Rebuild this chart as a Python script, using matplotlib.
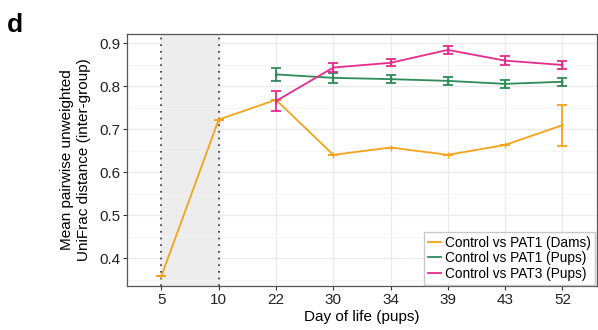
import numpy as np
import matplotlib.pyplot as plt
from matplotlib.lines import Line2D

plt.rcParams['font.family'] = ['Liberation Sans', 'DejaVu Sans']

# categories (day of life)
days = ['5', '10', '22', '30', '34', '39', '43', '52']

# Control vs PAT1 (Dams)
dams_mean = [0.358, 0.722, 0.768, 0.640, 0.657, 0.640, 0.663, 0.709]
dams_err = [0, 0, 0, 0, 0, 0, 0, 0.048]

# Control vs PAT1 (Pups), from day 22
pat1_days = ['22', '30', '34', '39', '43', '52']
pat1_mean = [0.827, 0.819, 0.816, 0.812, 0.805, 0.810]
pat1_err = [0.015, 0.011, 0.010, 0.010, 0.009, 0.009]

# Control vs PAT3 (Pups), from day 22
pat3_mean = [0.765, 0.843, 0.854, 0.884, 0.859, 0.849]
pat3_err = [0.024, 0.011, 0.008, 0.009, 0.010, 0.009]

labels = ['Control vs PAT1 (Dams)', 'Control vs PAT1 (Pups)', 'Control vs PAT3 (Pups)']
c_orange = '#F5A31A'
c_green = '#2E8B57'
c_pink = '#E52B8C'

fig = plt.figure(figsize=(5.98, 3.30), dpi=100)
ax = fig.add_axes([0.2124, 0.1333, 0.7856, 0.7637])

pos = {d: i + 1 for i, d in enumerate(days)}
x_all = np.array([pos[d] for d in days])
x_pups = np.array([pos[d] for d in pat1_days])

# shaded window between day 5 and day 10
ax.axvspan(pos['5'], pos['10'], color='#EDEDED', zorder=0.5)
for d in ['5', '10']:
    ax.axvline(pos[d], color='#333333', linestyle=(0, (1, 3)), lw=1.2, zorder=1)

ax.errorbar(x_all, dams_mean, yerr=dams_err, color=c_orange, lw=1.3,
            capsize=3.6, capthick=1.3, marker='|', ms=4, zorder=3)
ax.errorbar(x_pups, pat1_mean, yerr=pat1_err, color=c_green, lw=1.3,
            capsize=3.6, capthick=1.3, marker='|', ms=4, zorder=3)
ax.errorbar(x_pups, pat3_mean, yerr=pat3_err, color=c_pink, lw=1.3,
            capsize=3.6, capthick=1.3, marker='|', ms=4, zorder=4)

ax.set_xlim(0.4, 8.6)
ax.set_ylim(0.335, 0.921)
ax.set_xticks(x_all)
ax.set_xticklabels(days)
ax.set_yticks([0.4, 0.5, 0.6, 0.7, 0.8, 0.9])
ax.set_yticks(np.arange(0.35, 0.92, 0.1), minor=True)
ax.grid(True, which='major', color='#EBEBEB', lw=1.0, zorder=0)
ax.grid(True, which='minor', axis='y', color='#F4F4F4', lw=0.6, zorder=0)
ax.set_axisbelow(True)
ax.tick_params(axis='both', which='major', labelsize=11, length=3,
               color='#333333', labelcolor='#222222', pad=2)
ax.tick_params(axis='y', which='minor', length=0)
for s in ax.spines.values():
    s.set_color('#555555')
    s.set_linewidth(0.9)

ax.set_xlabel('Day of life (pups)', fontsize=11, labelpad=2)
ax.set_ylabel('Mean pairwise unweighted\nUniFrac distance (inter-group)', fontsize=11, labelpad=6)

handles = [Line2D([], [], color=c, lw=1.3) for c in [c_orange, c_green, c_pink]]
leg = ax.legend(handles, labels, loc='lower right', fontsize=9.8, frameon=True, fancybox=False,
                handlelength=0.9, handletextpad=0.35, labelspacing=0.1,
                borderpad=0.3, borderaxespad=0.1)
leg.get_frame().set_edgecolor('#BBBBBB')
leg.get_frame().set_linewidth(1.0)

fig.text(0.012, 0.903, 'd', fontsize=19, fontweight='bold')

fig.savefig('out.png', dpi=100)
